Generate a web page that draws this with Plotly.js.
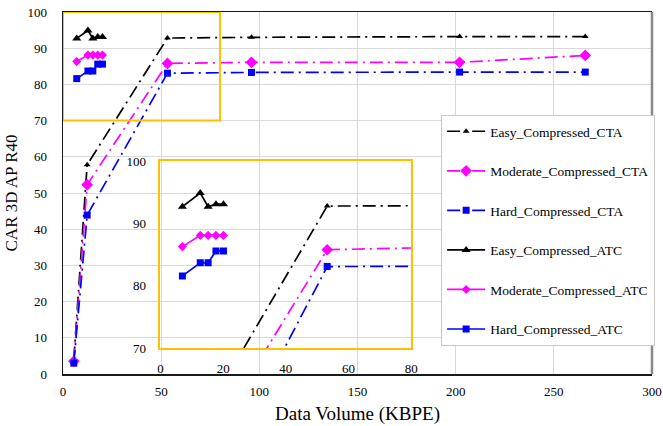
<!DOCTYPE html>
<html>
<head>
<meta charset="utf-8">
<script src="https://cdn.plot.ly/plotly-3.0.1.min.js"></script>
<style>html,body{margin:0;padding:0;background:#fff;}#chart{width:663px;height:426px;}</style>
</head>
<body>
<div id="chart"></div>
<script>
// ---- data ----
const seriesNames = ["Easy_Compressed_CTA", "Moderate_Compressed_CTA", "Hard_Compressed_CTA",
                     "Easy_Compressed_ATC", "Moderate_Compressed_ATC", "Hard_Compressed_ATC"];
const ctaX = [5.5, 12.3, 53.2, 96, 202, 266];
const easyCTA = [4.0, 57.8, 92.8, 93.0, 93.2, 93.2];
const moderateCTA = [3.5, 52.3, 85.8, 86.1, 86.1, 88.0];
const hardCTA = [3.0, 43.9, 83.1, 83.3, 83.4, 83.4];
const atcX = [7.0, 12.7, 15.2, 17.7, 20.1];
const easyATC = [92.7, 94.9, 92.7, 93.1, 93.1];
const moderateATC = [86.3, 88.1, 88.1, 88.1, 88.1];
const hardATC = [81.6, 83.7, 83.7, 85.6, 85.6];
const mainXTicks = [0, 50, 100, 150, 200, 250, 300];
const mainYTicks = [0, 10, 20, 30, 40, 50, 60, 70, 80, 90, 100];
const insetXTicks = [0, 20, 40, 60, 80];
const insetYTicks = [70, 80, 90, 100];

// ---- styles ----
const FONT = 'Liberation Serif, "Times New Roman", serif';
const BLACK = '#000000', MAGENTA = '#FF00FF', BLUE = '#0000FF', GOLD = '#FFC000';
const DASHDOT = '13px,5px,2px,5px';

const specs = [
  {name: seriesNames[0], x: ctaX, y: easyCTA, color: BLACK, dash: DASHDOT, symbol: 'triangle-up', size: 6},
  {name: seriesNames[1], x: ctaX, y: moderateCTA, color: MAGENTA, dash: DASHDOT, symbol: 'diamond', size: 9},
  {name: seriesNames[2], x: ctaX, y: hardCTA, color: BLUE, dash: DASHDOT, symbol: 'square', size: 7},
  {name: seriesNames[3], x: atcX, y: easyATC, color: BLACK, dash: 'solid', symbol: 'triangle-up', size: 8},
  {name: seriesNames[4], x: atcX, y: moderateATC, color: MAGENTA, dash: 'solid', symbol: 'diamond', size: 7},
  {name: seriesNames[5], x: atcX, y: hardATC, color: BLUE, dash: 'solid', symbol: 'square', size: 7}
];

const traces = [];
specs.forEach((s, i) => {
  traces.push({
    type: 'scatter', mode: 'lines+markers', name: s.name, x: s.x, y: s.y,
    line: {color: s.color, width: 1.7, dash: s.dash},
    marker: {color: s.color, symbol: s.symbol, size: s.size},
    legendgroup: 'g' + i, xaxis: 'x', yaxis: 'y', showlegend: true
  });
});
specs.forEach((s, i) => {
  traces.push({
    type: 'scatter', mode: 'lines+markers', name: s.name, x: s.x, y: s.y,
    line: {color: s.color, width: 1.7, dash: s.dash},
    marker: {color: s.color, symbol: s.symbol, size: s.size},
    legendgroup: 'g' + i, xaxis: 'x2', yaxis: 'y2', showlegend: false
  });
});

const layout = {
  width: 663, height: 426,
  margin: {l: 63, r: 8, t: 12, b: 52},
  paper_bgcolor: '#ffffff',
  plot_bgcolor: 'rgba(0,0,0,0)',
  font: {family: FONT, size: 13, color: '#000'},
  showlegend: true,
  legend: {
    x: 0.642, y: 0.7155, xanchor: 'left', yanchor: 'top',
    bgcolor: '#ffffff', bordercolor: '#c8c8c8', borderwidth: 1,
    font: {family: FONT, size: 13.5, color: '#000'},
    traceorder: 'grouped', tracegroupgap: 19, itemwidth: 38
  },
  xaxis: {
    domain: [0, 1], range: [0, 300], tickvals: mainXTicks, ticks: '',
    showgrid: true, gridcolor: '#d9d9d9', gridwidth: 1, zeroline: false,
    showline: true, linecolor: '#1a1a1a', linewidth: 1.5, mirror: true,
    tickfont: {family: FONT, size: 13}, ticklabelstandoff: 5,
    title: {text: 'Data Volume (KBPE)', font: {family: FONT, size: 19}, standoff: 8}
  },
  yaxis: {
    domain: [0, 1], range: [0, 100], tickvals: mainYTicks, ticks: '',
    showgrid: true, gridcolor: '#d9d9d9', gridwidth: 1, zeroline: false,
    showline: true, linecolor: '#1a1a1a', linewidth: 1.5,
    tickfont: {family: FONT, size: 13}, ticklabelstandoff: 12,
    title: {text: 'CAR 3D AP R40', font: {family: FONT, size: 17}, standoff: 5}
  },
  xaxis2: {
    domain: [0.1655, 0.5912], range: [0, 80], anchor: 'y2', tickvals: insetXTicks, ticks: '',
    showgrid: false, zeroline: false,
    showline: true, linecolor: GOLD, linewidth: 2, mirror: true,
    tickfont: {family: FONT, size: 13}, ticklabelstandoff: 7
  },
  yaxis2: {
    domain: [0.071, 0.588], range: [70, 100], anchor: 'x2', tickvals: insetYTicks, ticks: '',
    showgrid: false, zeroline: false,
    showline: true, linecolor: GOLD, linewidth: 2, mirror: true,
    tickfont: {family: FONT, size: 13}, ticklabelstandoff: 10
  },
  shapes: [
    {type: 'rect', xref: 'x', yref: 'y', x0: 0, x1: 80, y0: 70, y1: 100,
     line: {color: GOLD, width: 2}, fillcolor: 'rgba(0,0,0,0)', layer: 'above'},
    {type: 'line', xref: 'paper', yref: 'paper', x0: 1, x1: 1, y0: 0, y1: 1,
     line: {color: '#888888', width: 2.5}, layer: 'above'}
  ]
};

Plotly.newPlot('chart', traces, layout, {staticPlot: true, displayModeBar: false});
</script>
</body>
</html>
